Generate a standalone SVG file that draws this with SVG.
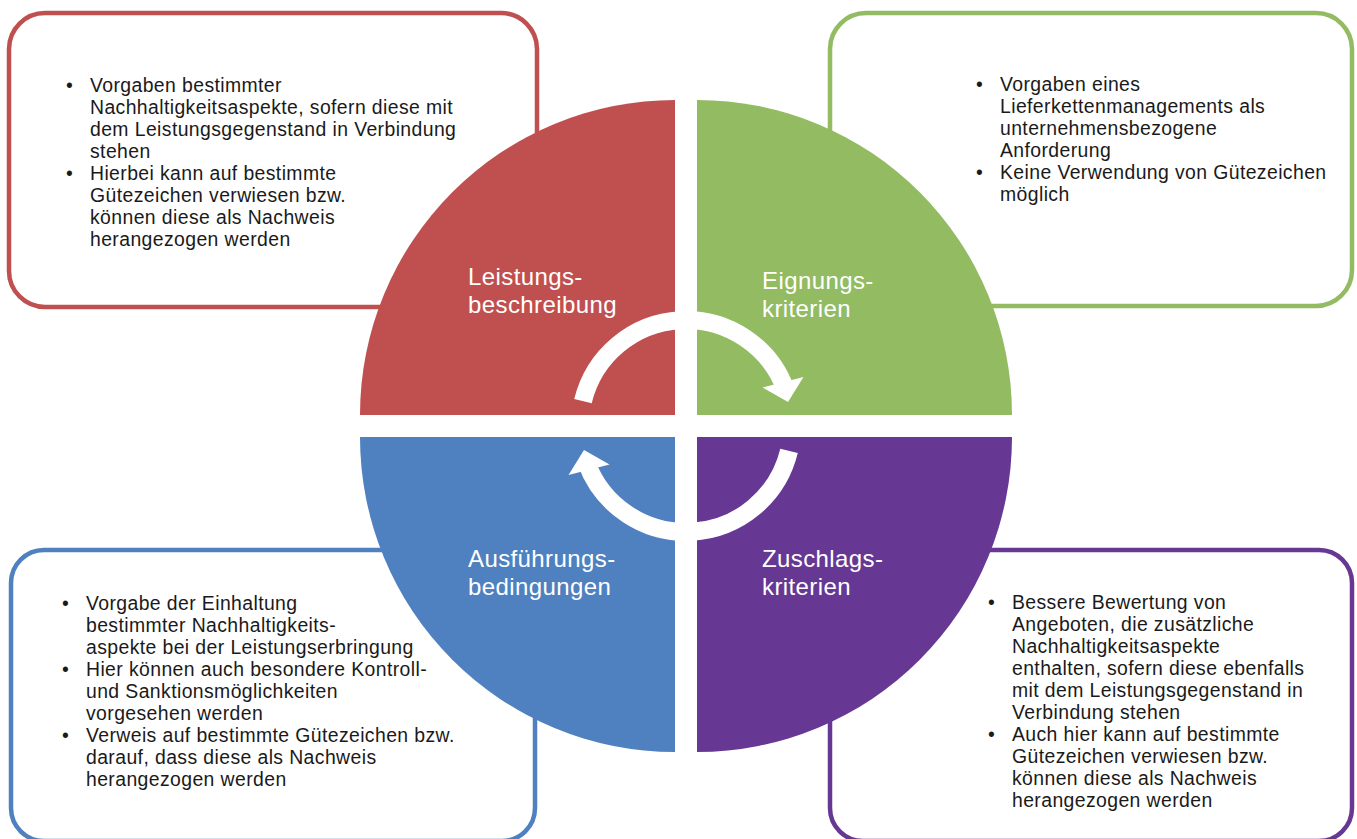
<svg xmlns="http://www.w3.org/2000/svg" width="1357" height="839" viewBox="0 0 1357 839">
  <style>
    .box { fill: #ffffff; stroke-width: 4.5; }
    .body { font-family: "Liberation Sans", Arial, sans-serif; font-size: 19.4px; letter-spacing: 0.4px; fill: #1a1a1a; }
    .label { font-family: "Liberation Sans", Arial, sans-serif; font-size: 24px; letter-spacing: 0.4px; fill: #ffffff; }
    .shaft { fill: none; stroke: #ffffff; stroke-width: 18; }
    .head { fill: #ffffff; }
  </style>
  <defs>
    <!-- one curved arrow of the cycle; the second is the same shape turned half a turn -->
    <g id="cycle-arrow">
      <path class="shaft" d="M582.97,401.07 A106,106 0 0 1 785.61,389.75"/>
      <polygon class="head" points="762.5,387.5 803.5,377 788,402"/>
    </g>
  </defs>
  <rect width="1357" height="839" fill="#ffffff"/>

  <!-- text boxes (drawn beneath the circle) -->
  <g id="box-leistung">
    <rect class="box" x="9" y="13" width="528" height="294" rx="36" stroke="#c0504f"/>
    <text class="body" x="66" y="92">•</text>
    <text class="body" x="66" y="180">•</text>
    <text class="body">
      <tspan x="90" y="92">Vorgaben bestimmter</tspan>
      <tspan x="90" dy="22">Nachhaltigkeitsaspekte, sofern diese mit</tspan>
      <tspan x="90" dy="22">dem Leistungsgegenstand in Verbindung</tspan>
      <tspan x="90" dy="22">stehen</tspan>
      <tspan x="90" dy="22">Hierbei kann auf bestimmte</tspan>
      <tspan x="90" dy="22">Gütezeichen verwiesen bzw.</tspan>
      <tspan x="90" dy="22">können diese als Nachweis</tspan>
      <tspan x="90" dy="22">herangezogen werden</tspan>
    </text>
  </g>

  <g id="box-eignung">
    <rect class="box" x="830" y="13" width="522" height="293" rx="36" stroke="#92bb62"/>
    <text class="body" x="976" y="91">•</text>
    <text class="body" x="976" y="179">•</text>
    <text class="body">
      <tspan x="1000" y="91">Vorgaben eines</tspan>
      <tspan x="1000" dy="22">Lieferkettenmanagements als</tspan>
      <tspan x="1000" dy="22">unternehmensbezogene</tspan>
      <tspan x="1000" dy="22">Anforderung</tspan>
      <tspan x="1000" dy="22">Keine Verwendung von Gütezeichen</tspan>
      <tspan x="1000" dy="22">möglich</tspan>
    </text>
  </g>

  <g id="box-ausfuehrung">
    <rect class="box" x="11" y="550" width="524" height="291" rx="33" stroke="#4f81c0"/>
    <text class="body" x="62" y="610">•</text>
    <text class="body" x="62" y="676">•</text>
    <text class="body" x="62" y="742">•</text>
    <text class="body">
      <tspan x="86" y="610">Vorgabe der Einhaltung</tspan>
      <tspan x="86" dy="22">bestimmter Nachhaltigkeits-</tspan>
      <tspan x="86" dy="22">aspekte bei der Leistungserbringung</tspan>
      <tspan x="86" dy="22">Hier können auch besondere Kontroll-</tspan>
      <tspan x="86" dy="22">und Sanktionsmöglichkeiten</tspan>
      <tspan x="86" dy="22">vorgesehen werden</tspan>
      <tspan x="86" dy="22">Verweis auf bestimmte Gütezeichen bzw.</tspan>
      <tspan x="86" dy="22">darauf, dass diese als Nachweis</tspan>
      <tspan x="86" dy="22">herangezogen werden</tspan>
    </text>
  </g>

  <g id="box-zuschlag">
    <rect class="box" x="830" y="550" width="522" height="291" rx="33" stroke="#663893"/>
    <text class="body" x="988" y="609">•</text>
    <text class="body" x="988" y="741">•</text>
    <text class="body">
      <tspan x="1012" y="609">Bessere Bewertung von</tspan>
      <tspan x="1012" dy="22">Angeboten, die zusätzliche</tspan>
      <tspan x="1012" dy="22">Nachhaltigkeitsaspekte</tspan>
      <tspan x="1012" dy="22">enthalten, sofern diese ebenfalls</tspan>
      <tspan x="1012" dy="22">mit dem Leistungsgegenstand in</tspan>
      <tspan x="1012" dy="22">Verbindung stehen</tspan>
      <tspan x="1012" dy="22">Auch hier kann auf bestimmte</tspan>
      <tspan x="1012" dy="22">Gütezeichen verwiesen bzw.</tspan>
      <tspan x="1012" dy="22">können diese als Nachweis</tspan>
      <tspan x="1012" dy="22">herangezogen werden</tspan>
    </text>
  </g>

  <!-- the four quarters of the circle -->
  <g id="quarter-leistung">
    <path d="M675,415 L360,415 A315,315 0 0 1 675,100 Z" fill="#c0504f"/>
    <text class="label"><tspan x="468" y="285">Leistungs-</tspan><tspan x="468" y="313">beschreibung</tspan></text>
  </g>
  <g id="quarter-eignung">
    <path d="M697,415 L697,100 A315,315 0 0 1 1012,415 Z" fill="#92bb62"/>
    <text class="label"><tspan x="762" y="289">Eignungs-</tspan><tspan x="762" y="317">kriterien</tspan></text>
  </g>
  <g id="quarter-zuschlag">
    <path d="M697,437 L1012,437 A315,315 0 0 1 697,752 Z" fill="#663893"/>
    <text class="label"><tspan x="762" y="567">Zuschlags-</tspan><tspan x="762" y="595">kriterien</tspan></text>
  </g>
  <g id="quarter-ausfuehrung">
    <path d="M675,437 L675,752 A315,315 0 0 1 360,437 Z" fill="#4f81c0"/>
    <text class="label"><tspan x="468" y="567">Ausführungs-</tspan><tspan x="468" y="595">bedingungen</tspan></text>
  </g>

  <!-- cycle arrows in the middle -->
  <g id="connectors">
    <use href="#cycle-arrow"/>
    <use href="#cycle-arrow" transform="rotate(180 686 426)"/>
  </g>
</svg>
